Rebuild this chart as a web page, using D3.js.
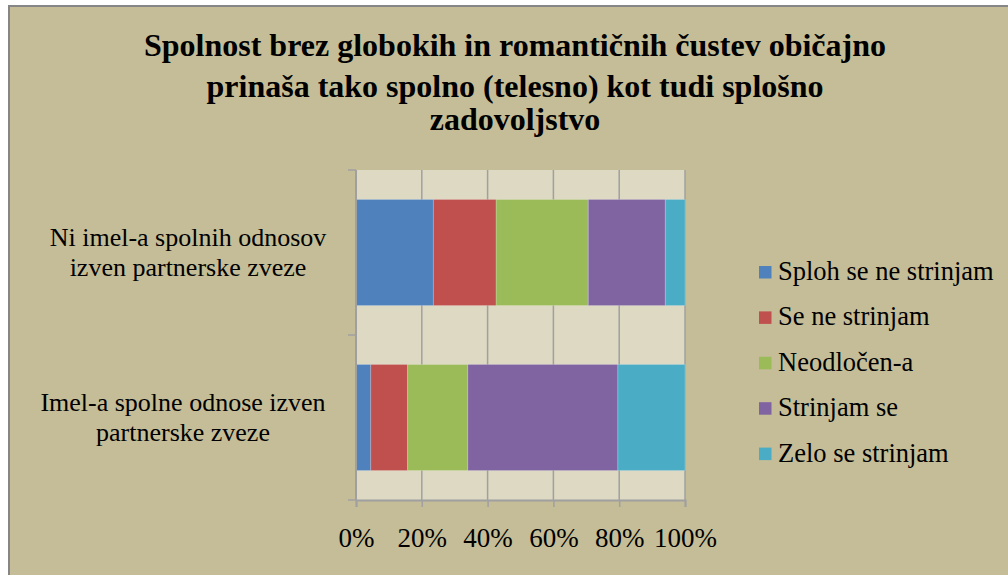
<!DOCTYPE html>
<html>
<head>
<meta charset="utf-8">
<script src="https://cdn.jsdelivr.net/npm/d3@7"></script>
<style>
  body { margin: 0; background: #fff; }
  svg { display: block; }
</style>
</head>
<body>
<div id="chart"></div>
<script>
// Chart size
var width = 1008;
var height = 575;
var serif = "'Liberation Serif'";

// Data (percent of respondents per answer)
var categories = ["Ni imel-a spolnih odnosov izven partnerske zveze",
                  "Imel-a spolne odnose izven partnerske zveze"];
var categoryLines = [["Ni imel-a spolnih odnosov", "izven partnerske zveze"],
                     ["Imel-a spolne odnose izven", "partnerske zveze"]];
var answers = ["Sploh se ne strinjam", "Se ne strinjam", "Neodločen-a", "Strinjam se", "Zelo se strinjam"];
var noAffair = [23.5, 19.1, 28.0, 23.4, 6.0];
var affair = [4.5, 11.2, 18.3, 45.6, 20.4];
var ticks = [0, 20, 40, 60, 80, 100];
var titleLines = ["Spolnost brez globokih in romantičnih čustev običajno",
                  "prinaša tako spolno (telesno) kot tudi splošno",
                  "zadovoljstvo"];

var colors = ["#4f81bd", "#c0504d", "#9bbb59", "#8064a2", "#4bacc6"];

// Plot area
var plot = { left: 356, right: 685, top: 170, bottom: 500 };

var svg = d3.select("#chart").append("svg")
  .attr("width", width)
  .attr("height", height);

// chart background with grey frame
svg.append("rect")
  .attr("x", 9).attr("y", 6)
  .attr("width", width + 10).attr("height", height + 10)
  .attr("fill", "#c4bd97")
  .attr("stroke", "#868686")
  .attr("stroke-width", 2);

// title
svg.append("g").selectAll("text")
  .data(titleLines)
  .enter().append("text")
  .attr("x", 515)
  .attr("y", (d, i) => [56, 97, 130][i])
  .attr("text-anchor", "middle")
  .style("font-family", serif)
  .style("font-size", "32px")
  .style("font-weight", "bold")
  .attr("fill", "#000")
  .text(d => d);

var x = d3.scaleLinear().domain([0, 100]).range([plot.left, plot.right]);
var y = d3.scaleBand().domain(categories)
  .range([plot.top, plot.bottom])
  .paddingInner(0.357)
  .paddingOuter(0.1785);

// plot background
svg.append("rect")
  .attr("x", plot.left).attr("y", plot.top)
  .attr("width", plot.right - plot.left)
  .attr("height", plot.bottom - plot.top)
  .attr("fill", "#ddd9c3");

// vertical gridlines
svg.append("g").selectAll("line")
  .data(ticks.slice(1))
  .enter().append("line")
  .attr("x1", d => x(d)).attr("x2", d => x(d))
  .attr("y1", plot.top).attr("y2", plot.bottom)
  .attr("stroke", "#a0a0a0")
  .attr("stroke-width", 1.5);

// stacked bars
var rows = [noAffair, affair];
rows.forEach((vals, r) => {
  var acc = 0;
  var segs = vals.map((v, i) => {
    var s = { x0: acc, x1: acc + v, c: colors[i] };
    acc += v;
    return s;
  });
  svg.append("g").selectAll("rect")
    .data(segs)
    .enter().append("rect")
    .attr("x", d => x(d.x0))
    .attr("width", d => x(d.x1) - x(d.x0))
    .attr("y", y(categories[r]))
    .attr("height", y.bandwidth())
    .attr("fill", d => d.c)
    .attr("stroke", "rgba(255,255,255,0.25)")
    .attr("stroke-width", 0.8);
});

// x axis
var xAxis = svg.append("g")
  .attr("transform", "translate(0," + plot.bottom + ")")
  .call(d3.axisBottom(x).tickValues(ticks).tickSize(7).tickFormat(d => d + "%"));
xAxis.attr("font-family", null).attr("font-size", null);
xAxis.select(".domain").attr("stroke", "#a0a0a0").attr("stroke-width", 2);
xAxis.selectAll(".tick line").attr("stroke", "#a0a0a0").attr("stroke-width", 1.5);
xAxis.selectAll(".tick text")
  .attr("y", 47)
  .attr("dy", null)
  .style("font-family", serif)
  .style("font-size", "27px")
  .attr("fill", "#000");

// y axis (category boundaries as ticks)
var yAxis = svg.append("g");
yAxis.append("line")
  .attr("x1", plot.left).attr("x2", plot.left)
  .attr("y1", plot.top).attr("y2", plot.bottom)
  .attr("stroke", "#a0a0a0").attr("stroke-width", 2);
var bounds = [plot.top, (plot.top + plot.bottom) / 2, plot.bottom];
yAxis.selectAll("line.tk")
  .data(bounds)
  .enter().append("line")
  .attr("class", "tk")
  .attr("x1", plot.left - 8).attr("x2", plot.left)
  .attr("y1", d => d).attr("y2", d => d)
  .attr("stroke", "#a0a0a0").attr("stroke-width", 1.5);

// category labels
var labelX = [188, 183];
categories.forEach((c, i) => {
  var cy = y(c) + y.bandwidth() / 2;
  svg.append("g").selectAll("text")
    .data(categoryLines[i])
    .enter().append("text")
    .attr("x", labelX[i])
    .attr("y", (d, j) => cy - 6.5 + j * 30)
    .attr("text-anchor", "middle")
    .style("font-family", serif)
    .style("font-size", "26px")
    .attr("fill", "#000")
    .text(d => d);
});

// legend
var legend = svg.append("g").selectAll("g")
  .data(answers)
  .enter().append("g")
  .attr("transform", (d, i) => "translate(759," + (272 + i * 45.4) + ")");
legend.append("rect")
  .attr("x", 0).attr("y", -6)
  .attr("width", 12.5).attr("height", 12.5)
  .attr("fill", (d, i) => colors[i]);
legend.append("text")
  .attr("x", 19).attr("y", 8)
  .style("font-family", serif)
  .style("font-size", "26.5px")
  .attr("fill", "#000")
  .text(d => d);
</script>
</body>
</html>
